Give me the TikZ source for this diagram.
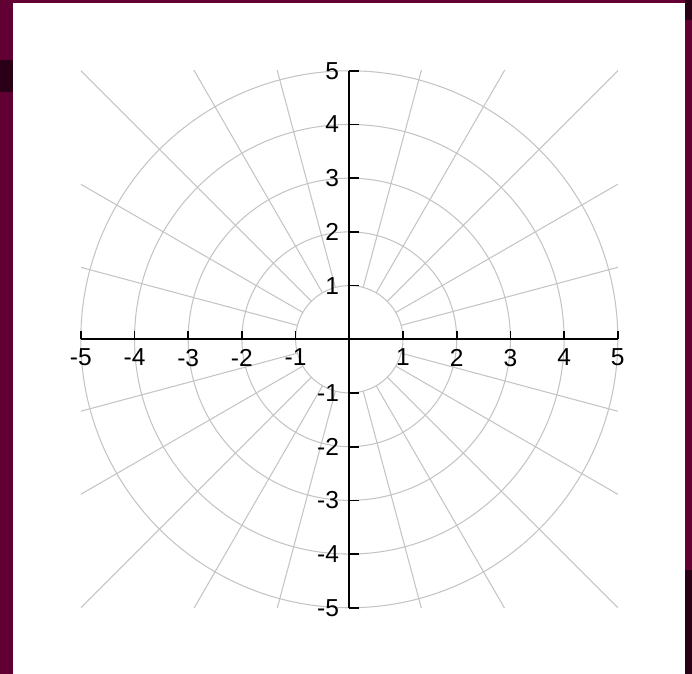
\documentclass[tikz,border=0pt]{standalone}
\usepackage{fontspec}
\setmainfont{Liberation Sans}
\usepackage{tikz}
\usetikzlibrary{positioning}
\definecolor{slidemaroon}{RGB}{99,0,51}
\definecolor{slidedark}{RGB}{42,0,22}
\definecolor{gridgray}{RGB}{196,196,196}

\begin{document}
\begin{tikzpicture}[x=1cm,y=1cm,
  font=\fontsize{13pt}{15pt}\selectfont,
  grid/.style={draw=gridgray,line width=.55pt},
  axis/.style={draw=black,line width=.9pt},
  tick/.style={draw=black,line width=.9pt},
  xlab/.style={anchor=north,inner sep=1pt},
  ylab/.style={anchor=east,inner sep=1pt}]

% slide background and white panel
\path[use as bounding box] (-6.505,-6.233) rectangle (6.382,6.318);
\fill[slidemaroon] (-6.505,-6.233) rectangle (6.382,6.318);
\fill[slidedark] (-6.505,5.2) rectangle (-6.263,4.6);
\fill[slidedark] (6.25,6.318) rectangle (6.382,5.95);
\fill[slidedark] (6.25,-4.3) rectangle (6.382,-6.233);
\fill[white] (-6.263,-6.233) rectangle (6.25,6.263);

% polar grid
\foreach \r in {1,...,5}
  \draw[grid] (0,0) circle (\r);
\begin{scope}
  \clip (-5,-5) rectangle (5,5);
  \foreach \a in {15,30,...,345}{
    \pgfmathtruncatemacro{\m}{mod(\a,90)}
    \ifnum\m=0\else
      \draw[grid] (\a:1) -- (\a:8);
    \fi
  }
\end{scope}

% axes
\coordinate (xmin) at (-5,0);
\coordinate (xmax) at (5,0);
\coordinate (ymin) at (0,-5);
\coordinate (ymax) at (0,5);
\draw[axis] (xmin) -- (xmax);
\draw[axis] (ymin) -- (ymax);

\foreach \i in {-5,-4,-3,-2,-1,1,2,3,4,5}{
  \draw[tick] (\i,0) -- (\i,.16);
  \draw[tick] (0,\i) -- (.18,\i);
  \node[xlab] (xl\i) at (\i,-.14) {\i};
  \node[ylab] (yl\i) at (-.15,\i) {\i};
}

\end{tikzpicture}
\end{document}
